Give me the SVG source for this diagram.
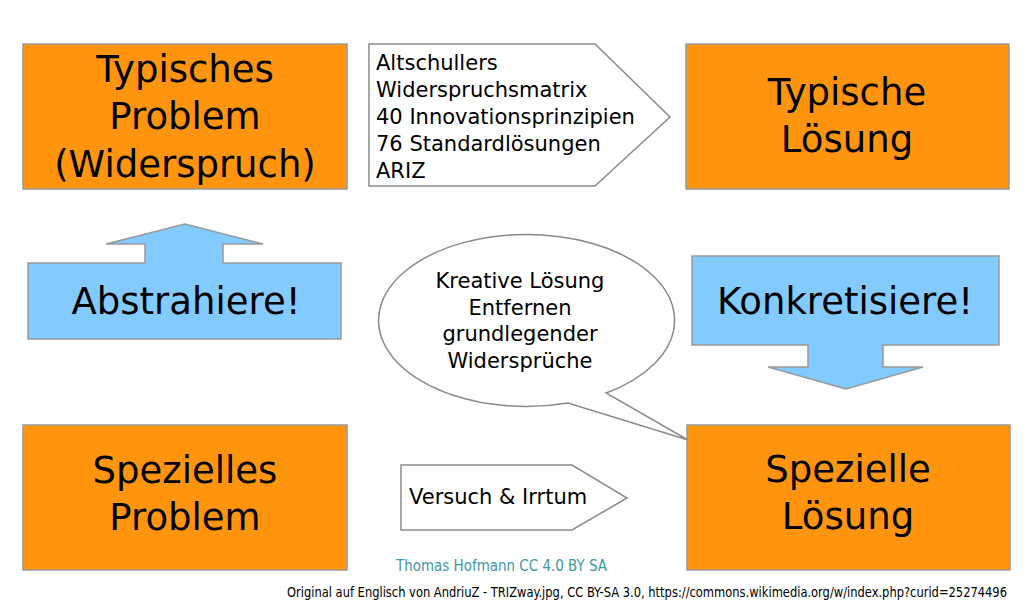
<svg xmlns="http://www.w3.org/2000/svg" width="1024" height="612" viewBox="0 0 1024 612">
<style>
.box{fill:#ff950e;stroke:#999999;stroke-width:1.5}
.blue{fill:#83caff;stroke:#999999;stroke-width:1.5}
.white{fill:#ffffff;stroke:#8a8a8a;stroke-width:1.5}
.big{font-family:"DejaVu Sans",sans-serif;font-size:37px;fill:#000;text-anchor:middle}
.small{font-family:"DejaVu Sans",sans-serif;font-size:21px;fill:#000}
.credit{font-family:"DejaVu Sans Condensed","DejaVu Sans",sans-serif}
</style>
<rect width="1024" height="612" fill="#ffffff"/>
<g id="typisches-problem">
<rect class="box" x="23" y="44" width="324" height="145"/>
<text class="big" x="185" y="82">Typisches</text>
<text class="big" x="185" y="129">Problem</text>
<text class="big" x="185" y="177">(Widerspruch)</text>
</g>
<g id="typische-loesung">
<rect class="box" x="686" y="44" width="323" height="145"/>
<text class="big" x="847" y="105">Typische</text>
<text class="big" x="847" y="152">Lösung</text>
</g>
<g id="spezielles-problem">
<rect class="box" x="23" y="425" width="324" height="145"/>
<text class="big" x="185" y="483">Spezielles</text>
<text class="big" x="185" y="530">Problem</text>
</g>
<g id="spezielle-loesung">
<rect class="box" x="687" y="425" width="323" height="145"/>
<text class="big" x="848" y="482">Spezielle</text>
<text class="big" x="848" y="529">Lösung</text>
</g>
<g id="connectors">
<g id="altschuller">
<polygon class="white" points="369,44 595,44 670,117 595,186 369,186"/>
<text class="small" x="376" y="70">Altschullers</text>
<text class="small" x="376" y="97">Widerspruchsmatrix</text>
<text class="small" x="376" y="124">40 Innovationsprinzipien</text>
<text class="small" x="376" y="151">76 Standardlösungen</text>
<text class="small" x="376" y="178">ARIZ</text>
</g>
<g id="abstrahiere">
<polygon class="blue" points="28,263 145,263 145,244 106,244 185,224 263,244 223,244 223,263 341,263 341,339 28,339"/>
<text class="big" x="186" y="314">Abstrahiere!</text>
</g>
<g id="konkretisiere">
<polygon class="blue" points="692,256 999,256 999,345 883,345 883,367 923,367 846,389 768,367 808,367 808,345 692,345"/>
<text class="big" x="845" y="314">Konkretisiere!</text>
</g>
<g id="kreative-loesung">
<path class="white" d="M606,393 A148,86 0 1 0 568,403 L688,440 Z"/>
<text class="small" x="520" y="288" text-anchor="middle">Kreative Lösung</text>
<text class="small" x="520" y="315" text-anchor="middle">Entfernen</text>
<text class="small" x="520" y="341" text-anchor="middle">grundlegender</text>
<text class="small" x="520" y="368" text-anchor="middle">Widersprüche</text>
</g>
<g id="versuch">
<polygon class="white" points="401,465 572,465 627,498 572,530 401,530"/>
<text class="small" x="409" y="504">Versuch &amp; Irrtum</text>
</g>
</g>
<text class="credit" x="396" y="571" font-size="15.5" fill="#3f97a3" textLength="211" lengthAdjust="spacingAndGlyphs">Thomas Hofmann CC 4.0 BY SA</text>
<text class="credit" x="287" y="597" font-size="13.5" fill="#000" textLength="720" lengthAdjust="spacingAndGlyphs">Original auf Englisch von AndriuZ - TRIZway.jpg, CC BY-SA 3.0, https://commons.wikimedia.org/w/index.php?curid=25274496</text>
</svg>
